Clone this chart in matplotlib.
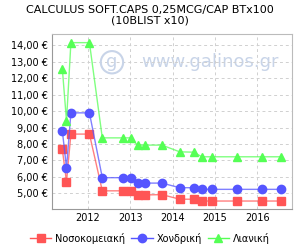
import matplotlib
matplotlib.use("Agg")
import matplotlib.pyplot as plt
import matplotlib.dates as mdates
import pandas as pd
from matplotlib.ticker import FuncFormatter

# Ημερομηνίες αλλαγής τιμών (εκτίμηση από το γράφημα)
dates = pd.to_datetime([
    "2011-05-26", "2011-07-01", "2011-08-08", "2012-01-15", "2012-05-05",
    "2012-11-01", "2013-01-05", "2013-03-05", "2013-05-10", "2013-10-01",
    "2014-03-05", "2014-07-05", "2014-09-10", "2014-12-10", "2015-07-10",
    "2016-02-10", "2016-07-25",
])
nosokomeiaki = [7.67, 5.70, 8.60, 8.60, 5.15, 5.15, 5.15, 4.90, 4.90, 4.92,
                4.64, 4.64, 4.53, 4.53, 4.53, 4.53, 4.53]
xondriki = [8.80, 6.55, 9.89, 9.89, 5.95, 5.95, 5.95, 5.62, 5.62, 5.62,
            5.34, 5.34, 5.24, 5.24, 5.24, 5.24, 5.24]
lianiki = [12.58, 9.40, 14.16, 14.16, 8.37, 8.37, 8.37, 7.93, 7.93, 7.93,
           7.52, 7.50, 7.22, 7.22, 7.22, 7.22, 7.22]
year_ticks = ["2012", "2013", "2014", "2015", "2016"]

fig = plt.figure(figsize=(3.0, 2.5), dpi=100)
ax = fig.add_axes([0.173, 0.163, 0.801, 0.7])

series = [
    (nosokomeiaki, "#ff5555", "s", "Νοσοκομειακή"),
    (xondriki, "#5555ff", "o", "Χονδρική"),
    (lianiki, "#55ff55", "^", "Λιανική"),
]
for vals, col, mk, lab in series:
    ax.plot(dates, vals, color=col, alpha=0.75, lw=1.0)
    ax.plot(dates, vals, color=col, ls="none", marker=mk, ms=6)
    ax.plot([], [], color=col, marker=mk, ms=6, lw=1.0, label=lab)

# υδατογράφημα
ax.text(0.25, 0.84, "g", transform=ax.transAxes, fontsize=13, color="#c8d4e8",
        ha="center", va="center",
        bbox=dict(boxstyle="circle,pad=0.12", fc="none", ec="#c8d4e8", lw=1.5))
ax.text(0.66, 0.84, "www.galinos.gr", transform=ax.transAxes, fontsize=13,
        color="#c8d4e8", ha="center", va="center", zorder=0)

ax.set_xlim(pd.Timestamp("2011-02-25"), pd.Timestamp("2016-10-30"))
ax.set_ylim(4.03, 14.67)
ax.set_yticks(range(5, 15))
ax.yaxis.set_major_formatter(FuncFormatter(lambda v, p: f"{v:.2f} €".replace(".", ",")))
ax.set_xticks(pd.to_datetime([y + "-01-01" for y in year_ticks]))
ax.xaxis.set_major_formatter(mdates.DateFormatter("%Y"))
ax.tick_params(labelsize=7, length=0, pad=3)
ax.grid(True, ls=(0, (3, 3)), color="#d0d0d0", lw=0.7)
for s in ax.spines.values():
    s.set_color("#bbbbbb")
ax.spines["left"].set_color("#999999")
ax.spines["bottom"].set_color("#999999")

fig.suptitle("CALCULUS SOFT.CAPS 0,25MCG/CAP BTx100\n(10BLIST x10)",
             fontsize=8, y=0.98, linespacing=1.1)
fig.legend(loc="lower center", ncol=3, fontsize=7, frameon=False,
           bbox_to_anchor=(0.5, -0.01), handlelength=2.2, columnspacing=0.6,
           handletextpad=0.4)

fig.savefig("out.png", dpi=100)
